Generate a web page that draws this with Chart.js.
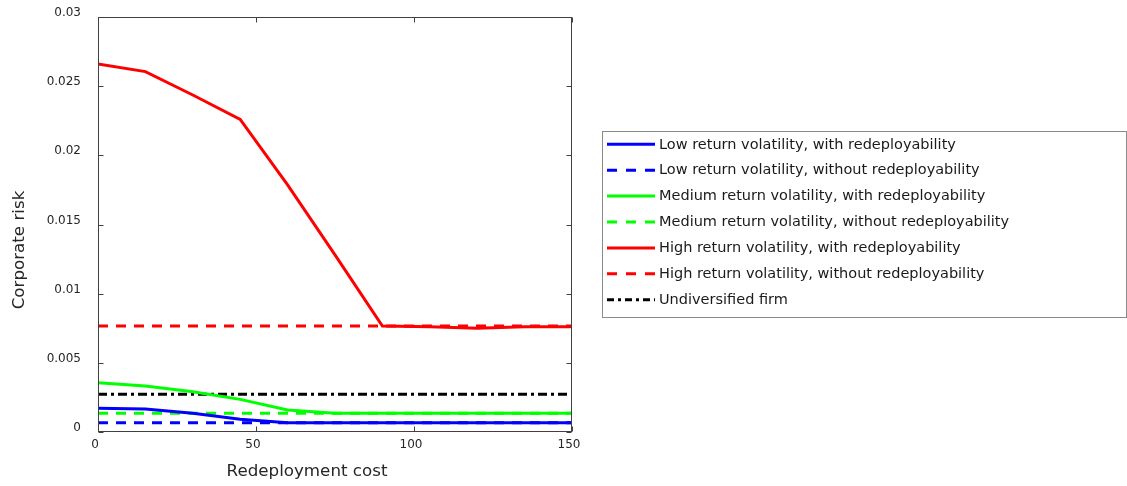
<!DOCTYPE html>
<html>
<head>
<meta charset="utf-8">
<script src="https://cdn.jsdelivr.net/npm/chart.js@4.4.1/dist/chart.umd.min.js"></script>
<style>
  html, body { margin: 0; padding: 0; background: #fff; }
  #wrap { width: 1127px; height: 486px; }
</style>
</head>
<body>
<div id="wrap"><canvas id="c" width="1127" height="486"></canvas></div>
<script>
// ---- data ----
const redeploymentCost = [0, 15, 30, 45, 60, 75, 90, 105, 120, 135, 150];
const lowWith      = [0.00171, 0.00166, 0.00135, 0.00092, 0.00067, 0.00067, 0.00067, 0.00067, 0.00067, 0.00067, 0.00067];
const lowWithout   = [0.00067, 0.00067, 0.00067, 0.00067, 0.00067, 0.00067, 0.00067, 0.00067, 0.00067, 0.00067, 0.00067];
const medWith      = [0.00356, 0.00333, 0.00291, 0.00236, 0.00159, 0.00135, 0.00135, 0.00135, 0.00135, 0.00135, 0.00135];
const medWithout   = [0.00135, 0.00135, 0.00135, 0.00135, 0.00135, 0.00135, 0.00135, 0.00135, 0.00135, 0.00135, 0.00135];
const highWith     = [0.0266, 0.02605, 0.02436, 0.0226, 0.01786, 0.0128, 0.00766, 0.0076, 0.0075, 0.0076, 0.0076];
const highWithout  = [0.00766, 0.00766, 0.00766, 0.00766, 0.00766, 0.00766, 0.00766, 0.00766, 0.00766, 0.00766, 0.00766];
const undiversified = [0.00273, 0.00273, 0.00273, 0.00273, 0.00273, 0.00273, 0.00273, 0.00273, 0.00273, 0.00273, 0.00273];

const seriesLabels = [
  'Low return volatility, with redeployability',
  'Low return volatility, without redeployability',
  'Medium return volatility, with redeployability',
  'Medium return volatility, without redeployability',
  'High return volatility, with redeployability',
  'High return volatility, without redeployability',
  'Undiversified firm'
];
const xTickValues = [0, 50, 100, 150];
const xTickLabels = ['0', '50', '100', '150'];
const yTickValues = [0, 0.005, 0.01, 0.015, 0.02, 0.025, 0.03];
const yTickLabels = ['0', '0.005', '0.01', '0.015', '0.02', '0.025', '0.03'];
const xTitle = 'Redeployment cost';
const yTitle = 'Corporate risk';

// ---- build ----
const pts = arr => arr.map((v, i) => ({ x: redeploymentCost[i], y: v }));
const FONT = "'DejaVu Sans', Verdana, sans-serif";
const TXT = '#262626';
const DASH = [10, 8];
const DASHDOT = [9, 4, 3, 4];

function ds(label, data, color, dash) {
  return { label, data: pts(data), borderColor: color, backgroundColor: color,
           borderWidth: 3, borderDash: dash, pointRadius: 0, tension: 0, fill: false };
}

const datasets = [
  ds(seriesLabels[0], lowWith, '#0000ff', []),
  ds(seriesLabels[1], lowWithout, '#0000ff', DASH),
  ds(seriesLabels[2], medWith, '#00ff00', []),
  ds(seriesLabels[3], medWithout, '#00ff00', DASH),
  ds(seriesLabels[4], highWith, '#ff0000', []),
  ds(seriesLabels[5], highWithout, '#ff0000', DASH),
  ds(seriesLabels[6], undiversified, '#000000', DASHDOT)
];

const framePlugin = {
  id: 'frame',
  afterDraw(chart) {
    const { ctx, chartArea: a, scales } = chart;
    ctx.save();
    ctx.strokeStyle = '#404040';
    ctx.lineWidth = 1;
    const L = Math.round(a.left) + 0.5, R = Math.round(a.right) - 0.5;
    const T = Math.round(a.top) + 0.5, B = Math.round(a.bottom) - 0.5;
    ctx.strokeRect(L, T, R - L, B - T);
    const tl = 5;
    ctx.beginPath();
    xTickValues.forEach(v => {
      const px = Math.round(scales.x.getPixelForValue(v)) + 0.5;
      ctx.moveTo(px, B); ctx.lineTo(px, B - tl);
      ctx.moveTo(px, T); ctx.lineTo(px, T + tl);
    });
    yTickValues.forEach(v => {
      const py = Math.round(scales.y.getPixelForValue(v)) + 0.5;
      ctx.moveTo(L, py); ctx.lineTo(L + tl, py);
      ctx.moveTo(R, py); ctx.lineTo(R - tl, py);
    });
    ctx.stroke();

    // axis titles
    ctx.fillStyle = TXT;
    ctx.font = '16.7px ' + FONT;
    ctx.textAlign = 'center';
    ctx.textBaseline = 'middle';
    ctx.fillText(xTitle, a.left + 209, a.bottom + 40);
    ctx.save();
    ctx.translate(20, a.top + 233);
    ctx.rotate(-Math.PI / 2);
    ctx.fillText(yTitle, 0, 0);
    ctx.restore();

    // legend
    const lx = 602.5, ly = 131.5, lw = 524, lh = 186;
    ctx.strokeStyle = '#8a8a8a';
    ctx.strokeRect(lx, ly, lw, lh);
    ctx.font = '14.5px ' + FONT;
    ctx.textAlign = 'left';
    chart.data.datasets.forEach((d, i) => {
      const y = 144.3 + i * 25.9;
      ctx.save();
      ctx.strokeStyle = d.borderColor;
      ctx.lineWidth = 3;
      ctx.setLineDash(d.borderDash.length ? (d.borderDash === DASHDOT ? [7, 4, 3, 4] : [10, 9]) : []);
      ctx.beginPath();
      ctx.moveTo(607, y); ctx.lineTo(655, y);
      ctx.stroke();
      ctx.restore();
      ctx.fillStyle = '#1a1a1a';
      ctx.fillText(d.label, 659, y + 0.5);
    });
    ctx.restore();
  }
};

new Chart(document.getElementById('c'), {
  type: 'line',
  data: { datasets },
  options: {
    responsive: false,
    animation: false,
    devicePixelRatio: 1,
    layout: { padding: { top: 17, right: 1127 - 572, left: 0, bottom: 0 } },
    plugins: { legend: { display: false }, tooltip: { enabled: false } },
    scales: {
      x: {
        type: 'linear', min: 0, max: 150,
        afterBuildTicks: s => { s.ticks = xTickValues.map(v => ({ value: v })); },
        afterFit: s => { s.height = 486 - 432; s.paddingLeft = 0; s.paddingRight = 0; },
        ticks: {
          callback: (v, i) => xTickLabels[i],
          color: TXT, font: { family: FONT, size: 12 }, padding: 6, labelOffset: -3, maxRotation: 0
        },
        grid: { display: false, drawTicks: false },
        border: { display: false }
      },
      y: {
        type: 'linear', min: 0, max: 0.03,
        afterBuildTicks: s => { s.ticks = yTickValues.map(v => ({ value: v })); },
        afterFit: s => { s.width = 98; s.paddingTop = 0; s.paddingBottom = 0; },
        ticks: {
          callback: (v, i) => yTickLabels[i],
          color: TXT, font: { family: FONT, size: 12 }, padding: 17, labelOffset: -4
        },
        grid: { display: false, drawTicks: false },
        border: { display: false }
      }
    }
  },
  plugins: [framePlugin]
});
</script>
</body>
</html>
